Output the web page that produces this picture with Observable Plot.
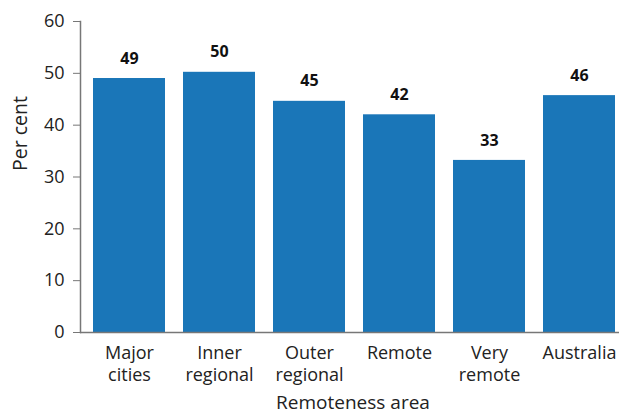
<!DOCTYPE html>
<html>
<head>
<meta charset="utf-8">
<script src="https://cdn.jsdelivr.net/npm/d3@7"></script>
<script src="https://cdn.jsdelivr.net/npm/@observablehq/plot@0.6"></script>
<style>
  html, body { margin: 0; padding: 0; background: #fff; }
  #chart svg { display: block; }
</style>
</head>
<body>
<div id="chart"></div>
<script>
const categories = ["Major cities", "Inner regional", "Outer regional", "Remote", "Very remote", "Australia"];
const values = [49, 50.2, 44.6, 42, 33.2, 45.7];
const yTicks = [0, 10, 20, 30, 40, 50, 60];
const xTitle = "Remoteness area";
const yTitle = "Per cent";

const data = categories.map((c, i) => ({category: c, value: values[i]}));
const font = "Open Sans, Lato, sans-serif";
const barColor = "#1a76b8";

const chart = Plot.plot({
  width: 619,
  height: 414,
  marginTop: 21,
  marginBottom: 82,
  marginLeft: 80,
  marginRight: 0,
  style: {fontFamily: font, color: "#222", background: "#fff"},
  x: {domain: categories, range: [81, 626], paddingInner: 0.2, paddingOuter: 0.1},
  y: {domain: [0, 60]},
  marks: [
    Plot.barY(data, {x: "category", y: "value", fill: barColor}),
    Plot.text(data, {x: "category", y: "value", text: d => d3.format(".0f")(d.value), dy: -20, fontSize: 16, fontWeight: "bold", fill: "#111"}),
    Plot.ruleY([0], {stroke: "#777", strokeWidth: 1.5}),
    Plot.frame({anchor: "left", stroke: "#777", strokeWidth: 1.5}),
    Plot.axisY({ticks: yTicks, tickSize: 7, tickPadding: 9, fontSize: 18, stroke: "#777", label: null}),
    Plot.axisX({tickSize: 0, tickPadding: 11, fontSize: 18, lineHeight: 1.22,
      tickFormat: d => d.replace(" ", "\n"), label: null}),
    Plot.text([yTitle], {frameAnchor: "left", dx: -60, dy: -6, rotate: -90, fontSize: 19.5, fill: "#222"}),
    Plot.text([xTitle], {frameAnchor: "bottom", dx: 3, dy: 76, fontSize: 19, fill: "#222"})
  ]
});
document.getElementById("chart").appendChild(chart);
</script>
</body>
</html>
